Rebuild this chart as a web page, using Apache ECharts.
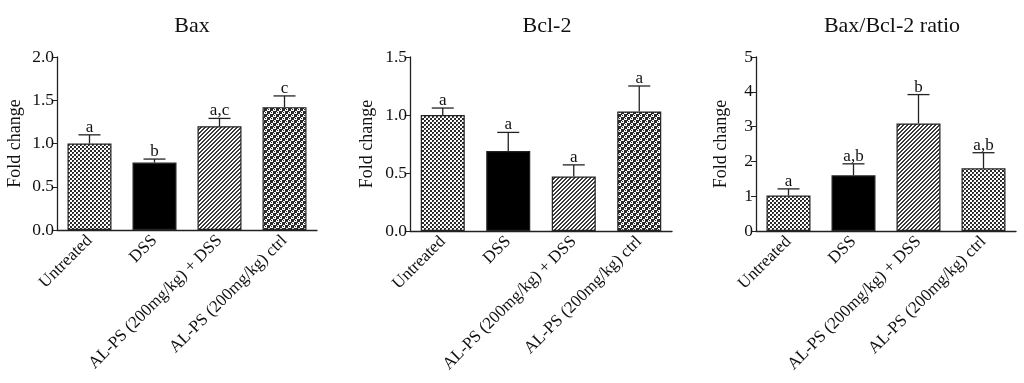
<!DOCTYPE html>
<html><head><meta charset="utf-8">
<script src="https://cdn.jsdelivr.net/npm/echarts@6/dist/echarts.min.js"></script>
<style>html,body{margin:0;padding:0;background:#fff}#c{width:1024px;height:383px}</style>
</head><body><div id="c"></div>
<script>
var categories = ['Untreated', 'DSS', 'AL-PS (200mg/kg) + DSS', 'AL-PS (200mg/kg) ctrl'];
var titles = ['Bax', 'Bcl-2', 'Bax/Bcl-2 ratio'];
var baxMean = [1.00, 0.78, 1.20, 1.42];
var baxErr  = [1.10, 0.82, 1.29, 1.55];
var baxSig  = ['a', 'b', 'a,c', 'c'];
var bclMean = [1.00, 0.69, 0.47, 1.03];
var bclErr  = [1.06, 0.85, 0.57, 1.25];
var bclSig  = ['a', 'a', 'a', 'a'];
var ratioMean = [1.02, 1.60, 3.09, 1.80];
var ratioErr  = [1.21, 1.93, 3.92, 2.25];
var ratioSig  = ['a', 'a,b', 'b', 'a,b'];
var yMax = [2.0, 1.5, 5];
var yInterval = [0.5, 0.5, 1];

var FONT = '"Liberation Serif", "DejaVu Serif", serif';

function makePattern(kind) {
  var c = document.createElement('canvas');
  var ctx;
  if (kind === 'check') {
    c.width = 4; c.height = 4; ctx = c.getContext('2d');
    ctx.fillStyle = '#fff'; ctx.fillRect(0,0,4,4);
    ctx.fillStyle = '#2a2a2a';
    ctx.fillRect(0,0,2,2); ctx.fillRect(2,2,2,2);
    ctx.fillStyle = '#666'; ctx.fillRect(1,1,1,1);
  } else if (kind === 'diag') {
    c.width = 4; c.height = 4; ctx = c.getContext('2d');
    ctx.fillStyle = '#fff'; ctx.fillRect(0,0,4,4);
    ctx.fillStyle = '#3a3a3a';
    for (var i = 0; i < 4; i++) { ctx.fillRect((3 - i + 4) % 4, i, 1, 1); ctx.fillRect((4 - i + 4) % 4, i, 1, 1); }
  } else if (kind === 'hound') {
    c.width = 6; c.height = 6; ctx = c.getContext('2d');
    ctx.fillStyle = '#fff'; ctx.fillRect(0,0,6,6);
    ctx.fillStyle = '#2a2a2a';
    ctx.fillRect(0,0,3,3);
    ctx.fillRect(3,3,3,3);
    ctx.fillRect(3,0,1,1); ctx.fillRect(4,1,1,1);
    ctx.fillRect(0,3,1,1); ctx.fillRect(1,4,1,1);
  } else {
    c.width = 2; c.height = 2; ctx = c.getContext('2d');
    ctx.fillStyle = '#000'; ctx.fillRect(0,0,2,2);
  }
  return {image: c, repeat: 'repeat'};
}
var fills = [
  [makePattern('check'), '#000', makePattern('diag'), makePattern('hound')],
  [makePattern('check'), '#000', makePattern('diag'), makePattern('hound')],
  [makePattern('check'), '#000', makePattern('diag'), makePattern('check')]
];

var means = [baxMean, bclMean, ratioMean];
var errs = [baxErr, bclErr, ratioErr];
var sigs = [baxSig, bclSig, ratioSig];
var grids = [
  {left: 57, top: 57, width: 260, height: 173},
  {left: 410, top: 57, width: 262, height: 174},
  {left: 756, top: 57, width: 260, height: 174}
];
var titleX = [187, 542, 887];
var nameGaps = [33, 34, 26];

var option = {
  animation: false,
  backgroundColor: '#fff',
  title: titles.map(function (t, i) {
    return {text: t, left: titleX[i], top: 10, textAlign: 'center',
      textStyle: {fontFamily: FONT, fontSize: 22, fontWeight: 'normal', color: '#111'}};
  }),
  grid: grids,
  xAxis: grids.map(function (g, i) {
    return {type: 'category', gridIndex: i, data: categories,
      axisLine: {lineStyle: {color: '#222', width: 1.3}},
      axisTick: {alignWithLabel: true, length: 5, lineStyle: {color: '#222'}},
      axisLabel: {rotate: 45, interval: 0, fontFamily: FONT, fontSize: 17, color: '#111', margin: 8}};
  }),
  yAxis: grids.map(function (g, i) {
    return {type: 'value', gridIndex: i, min: 0, max: yMax[i], interval: yInterval[i],
      name: 'Fold change', nameLocation: 'middle', nameGap: nameGaps[i],
      nameTextStyle: {fontFamily: FONT, fontSize: 18, color: '#111'},
      axisLine: {show: true, lineStyle: {color: '#222', width: 1.3}},
      axisTick: {show: true, length: 5, lineStyle: {color: '#222'}},
      splitLine: {show: false},
      axisLabel: {fontFamily: FONT, fontSize: 17.5, color: '#111', margin: 3,
        formatter: function (v) { return yInterval[i] < 1 ? v.toFixed(1) : String(v); }}};
  }),
  series: []
};

for (var k = 0; k < 3; k++) {
  (function (k) {
    option.series.push({
      type: 'bar', xAxisIndex: k, yAxisIndex: k, barWidth: 44,
      data: means[k].map(function (v, j) {
        return {value: v, itemStyle: {color: fills[k][j], borderColor: '#222', borderWidth: 1.2}};
      })
    });
    option.series.push({
      type: 'custom', xAxisIndex: k, yAxisIndex: k, z: 5,
      data: means[k].map(function (v, j) { return [j, v, errs[k][j]]; }),
      renderItem: function (params, api) {
        var j = api.value(0);
        var p0 = api.coord([j, api.value(1)]);
        var p1 = api.coord([j, api.value(2)]);
        var hw = 11;
        var style = {stroke: '#222', lineWidth: 1.3};
        return {type: 'group', children: [
          {type: 'line', shape: {x1: p0[0], y1: p0[1], x2: p1[0], y2: p1[1]}, style: style},
          {type: 'line', shape: {x1: p1[0] - hw, y1: p1[1], x2: p1[0] + hw, y2: p1[1]}, style: style},
          {type: 'text', x: p1[0], y: p1[1] + 1, style: {text: sigs[k][params.dataIndex],
            fontFamily: FONT, fontSize: 17, fill: '#111', align: 'center', verticalAlign: 'bottom'}}
        ]};
      }
    });
  })(k);
}

var chart = echarts.init(document.getElementById('c'), null, {renderer: 'canvas'});
chart.setOption(option);
</script>
</body></html>
